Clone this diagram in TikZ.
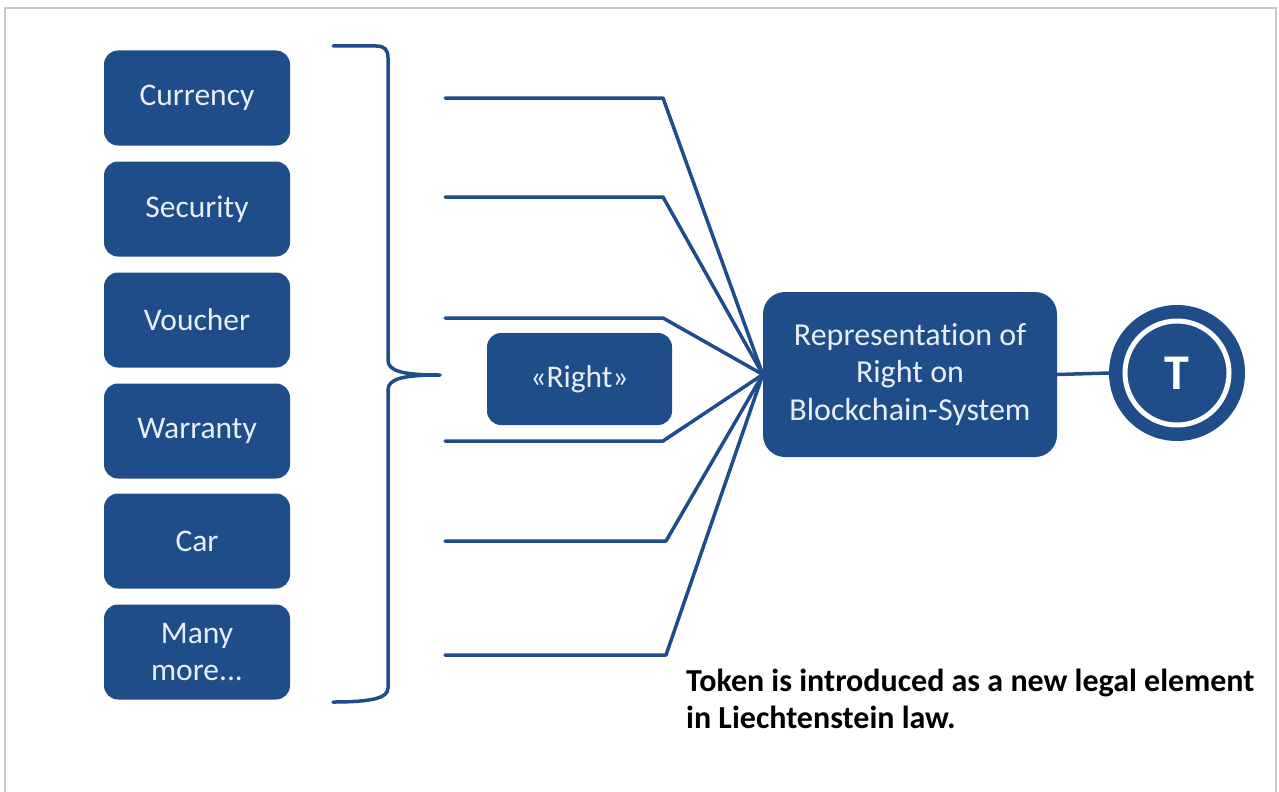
\documentclass[tikz,border=0pt]{standalone}
\usepackage{fontspec}
\setmainfont{Carlito}[Ligatures=NoCommon]
\definecolor{tokblue}{RGB}{31,77,138}
\definecolor{boxtext}{RGB}{232,238,246}
\definecolor{framegray}{RGB}{200,200,200}
\begin{document}
\begin{tikzpicture}[x=1pt,y=-1pt,
  item/.style={rounded corners=14pt, fill=tokblue, text=boxtext,
    minimum width=186pt, minimum height=95pt, inner sep=0pt,
    align=center, font=\fontsize{31.5}{37}\selectfont},
  wire/.style={draw=tokblue, line width=3.5pt, line join=round, line cap=round}
]
\useasboundingbox (0,0) rectangle (1279,792);
% outer frame (open at the bottom)
\draw[framegray, line width=1.5pt] (5,792) -- (5,8) -- (1276,8) -- (1276,792);

% kinds of rights
\node[item] (cur)  at (197,98)  {Currency};
\node[item] (sec)  at (197,209) {Security};
\node[item] (vou)  at (197,320) {Voucher};
\node[item] (war)  at (197,431) {Warranty};
\node[item] (car)  at (197,541) {Car};
\node[item] (many) at (197,652) {Many\\more...};

% curly bracket grouping the kinds
\draw[wire] (333,46) -- (376,46) .. controls (385,46) and (388,50) .. (388,58)
  -- (388,360) .. controls (388,371) and (402,375) .. (440,375)
  .. controls (402,375) and (388,379) .. (388,390)
  -- (388,688) .. controls (388,698) and (372,702) .. (333,702);

% central nodes
\node[item, minimum width=185pt, minimum height=92pt] (right) at (579.5,379) {«Right»};
\node[item, minimum width=294pt, minimum height=165pt, rounded corners=22pt,
  font=\fontsize{32}{37.5}\selectfont] (rep) at (910,374.5)
  {Representation of\\Right on\\Blockchain-System};

% fan of lines into the representation
\coordinate (s1) at (445,98);  \coordinate (k1) at (663,98);
\coordinate (s2) at (445,197); \coordinate (k2) at (663,197);
\coordinate (s3) at (445,318); \coordinate (k3) at (663,318);
\coordinate (s4) at (445,441); \coordinate (k4) at (663,441);
\coordinate (s5) at (445,541); \coordinate (k5) at (666,541);
\coordinate (s6) at (445,655); \coordinate (k6) at (666,655);
\foreach \i in {1,...,6}{
  \draw[wire] (s\i) -- (k\i) -- (rep.west);
}

% token symbol
\node[circle, fill=tokblue, minimum size=136pt, inner sep=0pt, text=white,
  font=\bfseries\fontsize{50}{50}\selectfont] (tok) at (1177,373) {T};
\draw[white, line width=5pt] (tok.center) circle (52pt);
\draw[wire, line cap=butt] (rep.east) -- (tok.west);

% note
\node[anchor=north west, align=left, inner sep=0pt,
  font=\bfseries\fontsize{32}{37}\selectfont] (note) at (686,669)
  {Token is introduced as a new legal element\\in Liechtenstein law.};
\end{tikzpicture}
\end{document}
